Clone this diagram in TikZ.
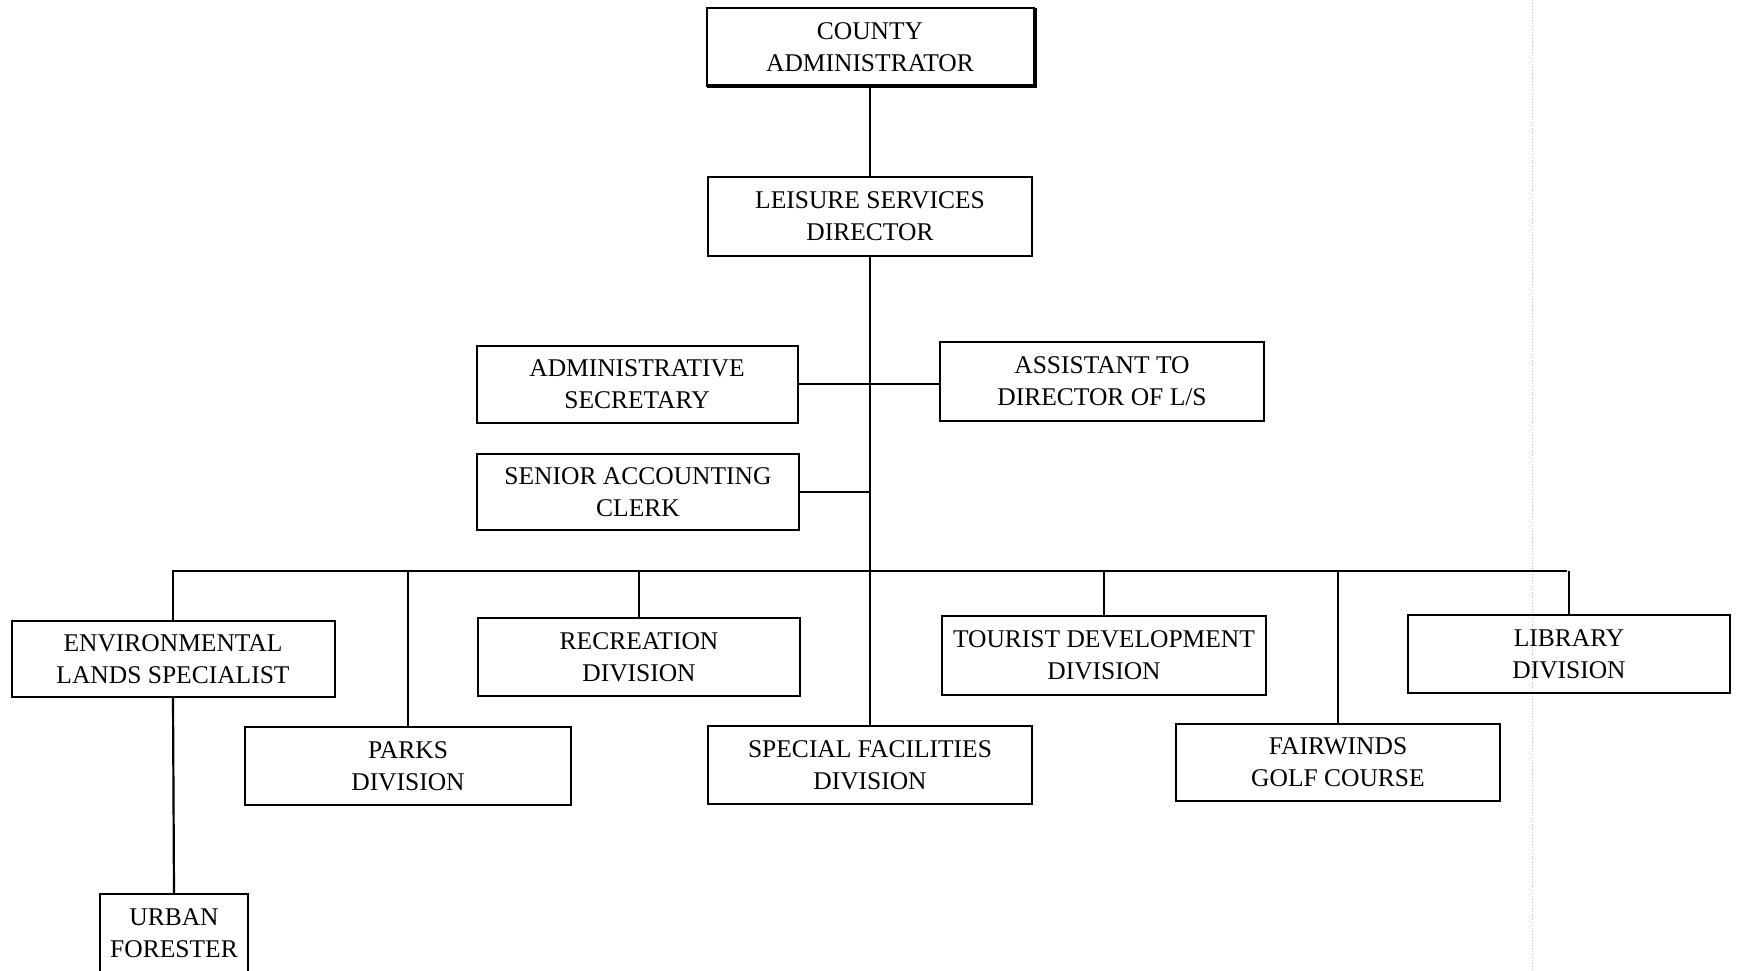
\documentclass[tikz,border=0pt]{standalone}
\usepackage{fontspec}
\setmainfont{Liberation Serif}
\begin{document}
\begin{tikzpicture}[x=1pt,y=-1pt,
  orgbox/.style={draw, line width=2pt, inner sep=0pt, align=center,
    minimum height=78pt, font=\fontsize{25.5}{32}\selectfont},
  link/.style={line width=2.2pt},
  guide/.style={gray!55, dotted, line width=0.9pt}]
\useasboundingbox (0,0) rectangle (1738,970);

% page guide on the right
\draw[guide] (1532,0) -- (1532,970);

% boxes
\node[orgbox, minimum width=327pt, minimum height=78pt] (county) at (870,47) {COUNTY\\ADMINISTRATOR};
\node[orgbox, minimum width=324pt, minimum height=79pt] (leisure) at (870,216) {LEISURE SERVICES\\DIRECTOR};
\node[orgbox, minimum width=321pt, minimum height=77pt] (adminsec) at (637,384) {ADMINISTRATIVE\\SECRETARY};
\node[orgbox, minimum width=324pt, minimum height=79pt] (assistant) at (1102,381) {ASSISTANT TO\\DIRECTOR OF L/S};
\node[orgbox, minimum width=322pt, minimum height=76pt] (senior) at (638,492) {SENIOR ACCOUNTING\\CLERK};

\node[orgbox, minimum width=323pt, minimum height=76pt] (env) at (173,659) {ENVIRONMENTAL\\LANDS SPECIALIST};
\node[orgbox, minimum width=322pt] (rec) at (639,657) {RECREATION\\DIVISION};
\node[orgbox, minimum width=324pt, minimum height=79pt] (tourist) at (1104,655) {TOURIST DEVELOPMENT\\DIVISION};
\node[orgbox, minimum width=322pt] (library) at (1569,654) {LIBRARY\\DIVISION};

\node[orgbox, minimum width=326pt] (parks) at (408,766) {PARKS\\DIVISION};
\node[orgbox, minimum width=324pt] (special) at (870,765) {SPECIAL FACILITIES\\DIVISION};
\node[orgbox, minimum width=324pt, minimum height=77pt] (fairwinds) at (1338,762) {FAIRWINDS\\GOLF COURSE};

\node[orgbox, minimum width=148pt] (urban) at (174,933) {URBAN\\FORESTER};

% heavier shadow edge on the top box
\draw[line width=3.4pt] ([xshift=1.2pt,yshift=-1pt]county.north east)
  -- ([xshift=1.2pt,yshift=1.2pt]county.south east)
  -- ([xshift=1pt,yshift=1.2pt]county.south west);

% trunk
\draw[link] (county.south) -- (leisure.north);
\draw[link] (leisure.south) -- (special.north);

% staff connectors
\draw[link] (adminsec.east) -- (adminsec.east -| assistant.west);
\draw[link] (senior.east) -- (senior.east -| leisure.south);

% division bus
\coordinate (busL) at (172,571);
\coordinate (busR) at (1567,571);
\draw[link] (busL) -- (busR);
\draw[link] (env.north) -- (env.north |- busL);
\draw[link] (parks.north) -- (parks.north |- busL);
\draw[link] (rec.north) -- (rec.north |- busL);
\draw[link] (tourist.north) -- (tourist.north |- busL);
\draw[link] (fairwinds.north) -- (fairwinds.north |- busL);
\draw[link] (library.north) -- (library.north |- busL);

% forester
\draw[link] (env.south) -- (urban.north);
\end{tikzpicture}
\end{document}
